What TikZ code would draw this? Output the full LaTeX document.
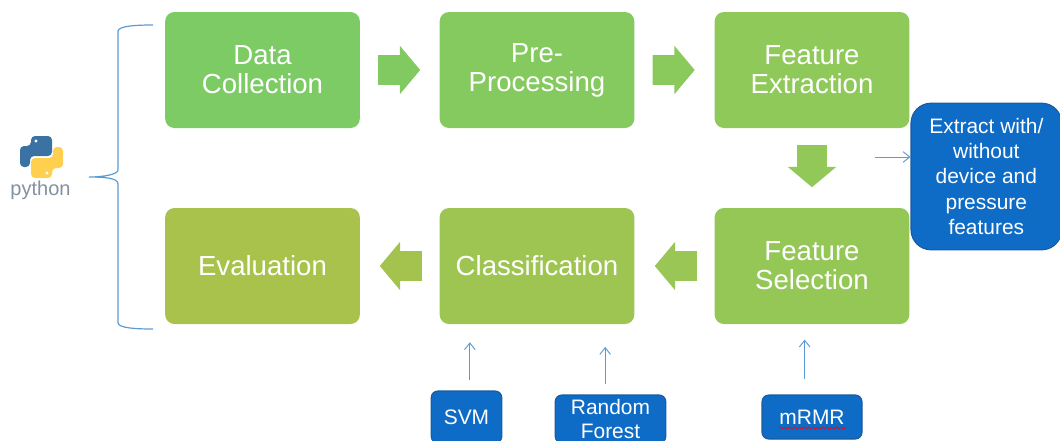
\documentclass[tikz,border=0pt]{standalone}
\usepackage{fontspec}
\setmainfont{Liberation Sans}
\usetikzlibrary{arrows.meta,shapes.arrows,decorations.pathmorphing}
\definecolor{wireblue}{HTML}{5B9BD5}
\definecolor{notefill}{HTML}{0F6CC6}
\definecolor{noteline}{HTML}{1A5A9E}
\definecolor{logoblue}{HTML}{3A72A4}
\definecolor{logoyellow}{HTML}{FFD04F}
\definecolor{logotext}{HTML}{84919E}
\definecolor{stagea}{HTML}{7DCB65}
\definecolor{stageb}{HTML}{85CA5F}
\definecolor{stagec}{HTML}{8FC95A}
\definecolor{staged}{HTML}{94C756}
\definecolor{stagee}{HTML}{9EC552}
\definecolor{stagef}{HTML}{A8C24B}
\definecolor{arrowa}{HTML}{81CA62}
\definecolor{arrowb}{HTML}{8AC95C}
\definecolor{arrowc}{HTML}{92C858}
\definecolor{arrowd}{HTML}{99C654}
\definecolor{arrowe}{HTML}{A3C34E}
\tikzset{
    stage/.style={fill=#1,rounded corners=7pt,minimum width=146pt,minimum height=87pt,
        inner sep=0pt,align=center,text=white,font=\fontsize{20.7}{21.8}\selectfont},
    flowarrow/.style={single arrow,fill=#1,inner sep=0pt,text height=21.75pt,text depth=0pt,
        minimum height=31.5pt,single arrow head extend=7.1pt,single arrow tip angle=100},
    note/.style={draw=noteline,line width=0.8pt,fill=notefill,rounded corners=5pt,inner sep=0pt,
        align=center,text=white,font=\fontsize{15.7}{19}\selectfont},
    wire/.style={-{Straight Barb[length=5pt,width=8pt]},draw=wireblue,line width=0.7pt}
}
\begin{document}
\begin{tikzpicture}[x=0.75pt,y=-0.75pt]
    \useasboundingbox (0,0) rectangle (1060,440);
    \clip (0,0) rectangle (1060,440);

    % top row
    \node[stage=stagea] (collect) at (262.5,70) {Data\\Collection};
    \node[stage=stageb] (preproc) at (537,70) {Pre-\\Processing};
    \node[stage=stagec] (fextract) at (812,70) {Feature\\Extraction};

    % bottom row
    \node[stage=staged] (fselect) at (812,266) {Feature\\Selection};
    \node[stage=stagee] (classify) at (537,266) {Classification};
    \node[stage=stagef] (evaluate) at (262.5,266) {Evaluation};

    % block arrows
    \node[flowarrow=arrowa] (stepa) at (393,70) {};
    \node[flowarrow=arrowb] (stepb) at (667.5,70) {};
    \node[flowarrow=arrowc,rotate=270] (stepc) at (812,160) {};
    \node[flowarrow=arrowd,rotate=180] (stepd) at (682,266) {};
    \node[flowarrow=arrowe,rotate=180] (stepe) at (407,266) {};

    % blue notes
    \node[note,rounded corners=15pt,minimum width=113pt,minimum height=110pt,xshift=1pt] (extract) at (985,176.5)
        {Extract with/\\without\\device and\\pressure\\features};
    \node[note,minimum width=53pt,minimum height=39pt] (svm) at (466.5,417) {SVM};
    \node[note,minimum width=83pt,minimum height=36pt,font=\fontsize{15.7}{18}\selectfont] (forest) at (610.5,419) {Random\\Forest};
    \node[note,minimum width=75pt,minimum height=33pt] (mrmr) at (812,417) {mRMR};
    \coordinate (squigl) at (779,428);
    \coordinate (squigr) at (845,428);
    \draw[red,line width=0.5pt,decorate,decoration={snake,amplitude=0.8pt,segment length=3.5pt}] (squigl) -- (squigr);

    % thin arrows
    \coordinate (extracttail) at (875,157);
    \draw[wire] (extracttail) -- (extracttail -| extract.west);
    \draw[wire,shorten <=8pt,shorten >=13.5pt] ([xshift=2.5pt]svm.north) -- ([xshift=2.5pt]svm.north |- classify.south);
    \draw[wire,shorten <=8pt,shorten >=17pt] ([xshift=-4pt]forest.north) -- ([xshift=-4pt]forest.north |- classify.south);
    \draw[wire,shorten <=11.5pt,shorten >=11.5pt] ([xshift=-5.5pt]mrmr.north) -- ([xshift=-5.5pt]mrmr.north |- fselect.south);

    % brace
    \draw[wireblue,line width=0.9pt] (153,25) .. controls (135,25) and (119,26) .. (118,31)
        -- (118,170) .. controls (118,174) and (105,177) .. (89,177)
        .. controls (105,177) and (118,178) .. (118,184)
        -- (118,323) .. controls (119,328) and (135,329) .. (153,329);

    % python logo
    \fill[logoblue,rounded corners=3pt] (31,146) -- (31,136) -- (52,136) -- (52,156) -- (30,156) -- (30,167) -- (20,167) -- (20,146) -- cycle;
    \fill[logoyellow,rounded corners=3pt] (52,168) -- (52,178) -- (31,178) -- (31,158) -- (53,158) -- (53,147) -- (63,147) -- (63,168) -- cycle;
    \fill[white] (36,141) circle [radius=1.6];
    \fill[white] (47,173) circle [radius=1.6];
    \node[text=logotext,font=\fontsize{15}{16}\selectfont,inner sep=0pt] (pylabel) at (40.5,190) {python};
\end{tikzpicture}
\end{document}
